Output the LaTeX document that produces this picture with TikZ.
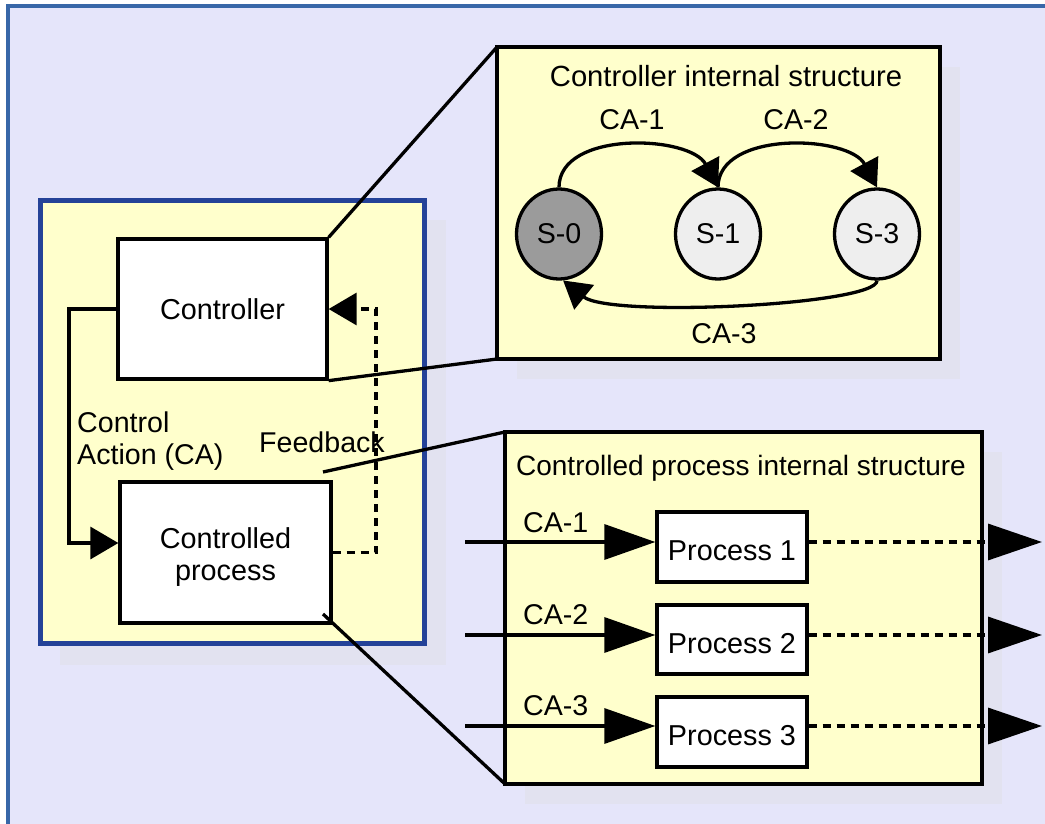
\documentclass[tikz,border=0pt]{standalone}
\usepackage{fontspec}
\setmainfont{Liberation Sans}
\usetikzlibrary{arrows.meta,shapes.geometric}
\definecolor{canvasbg}{RGB}{229,229,250}
\definecolor{frameblue}{RGB}{56,103,168}
\definecolor{boxblue}{RGB}{36,66,152}
\definecolor{paleyellow}{RGB}{255,255,204}
\definecolor{shadowtint}{RGB}{226,226,240}
\definecolor{stategrey}{RGB}{155,155,155}
\definecolor{statelight}{RGB}{238,238,238}

% lower a node's text without changing the box it is centred by
\newcommand{\lowertext}[2]{\raisebox{-#1}[\height][\depth]{#2}}

\begin{document}
\begin{tikzpicture}[x=1pt,y=-1pt,
  txt/.style={font=\fontsize{28.6}{32}\selectfont, inner sep=0pt},
  block/.style={draw=black, line width=3.3pt, fill=white, inner sep=0pt,
    font=\fontsize{28.8}{32}\selectfont, align=center},
  panel/.style={draw=black, line width=3.3pt, fill=paleyellow, inner sep=0pt, outer sep=0pt},
  state/.style={ellipse, draw=black, line width=3.3pt, minimum width=85pt,
    minimum height=90pt, inner sep=0pt, font=\fontsize{28.6}{32}\selectfont},
  link/.style={line width=3.3pt, black},
  dashlink/.style={line width=3.3pt, black, dash pattern=on 8pt off 6pt},
  smalltip/.style={-{Triangle[length=28pt,width=32pt]}},
  statetip/.style={-{Triangle[length=27pt,width=31pt]}},
  intip/.style={-{Triangle[length=51pt,width=35pt]}},
  outtip/.style={-{Triangle[length=54pt,width=36pt]}}
]
\useasboundingbox (0,0) rectangle (1045,824);
\clip (0,0) rectangle (1045,824);
\fill[white] (0,0) rectangle (1045,824);
\draw[line width=4pt, draw=frameblue, fill=canvasbg] (8,6) rectangle (1070,827);

% soft drop shadows behind the three panels
\fill[shadowtint] (60,220) rectangle (446,665);
\fill[shadowtint] (517,67) rectangle (960,379);
\fill[shadowtint] (525,452) rectangle (1002,804);

% control loop panel
\node[panel, draw=boxblue, line width=5pt, minimum width=383.5pt, minimum height=442.5pt]
  (loop) at (232.25,421.75) {};
\node[block, minimum width=209pt, minimum height=140pt] (ctrl) at (222.5,309) {Controller};
\node[block, minimum width=211pt, minimum height=141pt] (cp) at (225.5,552.5)
  {\lowertext{6pt}{\begin{tabular}{@{}c@{}}Controlled\\process\end{tabular}}};

\node[txt, anchor=north west, align=left] (calabel) at (77,412) {Control\\Action (CA)};
\node[txt, anchor=base west] (fblabel) at (259,452) {Feedback};

% control action and feedback paths
\coordinate (caTop) at (69,309);
\coordinate (caBot) at (69,543);
\draw[link, smalltip] (ctrl.west) -- (caTop) -- (caBot) -- (caBot -| cp.west);
\coordinate (fbTop) at (376,309);
\draw[dashlink, smalltip] (cp.east) -| (fbTop) -- (ctrl.east);

% controller internal structure
\node[panel, minimum width=443pt, minimum height=312pt] (ctrlpanel) at (718.5,203) {};
\node[txt, anchor=base, font=\fontsize{29.2}{32}\selectfont] (ctitle) at (726,87) {Controller internal structure};
\node[state, fill=stategrey] (s0) at (559,234) {S-0};
\node[state, fill=statelight] (s1) at (718,234) {S-1};
\node[state, fill=statelight] (s3) at (877,234) {S-3};
\draw[link, statetip] (s0.north) .. controls (559,130) and (690,135) .. (s1.north);
\draw[link, statetip] (s1.north) .. controls (718,130) and (849,135) .. (s3.north);
\draw[link, statetip] (s3.south) .. controls (877,305) and (610,318) .. (s0.-85);
\node[txt, anchor=base] (tca1) at (632,130) {CA-1};
\node[txt, anchor=base] (tca2) at (796,130) {CA-2};
\node[txt, anchor=base] (tca3) at (724,343) {CA-3};

% controlled process internal structure
\node[panel, minimum width=477pt, minimum height=352pt] (procpanel) at (743.5,608) {};
\node[txt, anchor=base, font=\fontsize{28}{32}\selectfont] (ptitle) at (741,475) {Controlled process internal structure};
\node[block, minimum width=150pt, minimum height=70pt] (p1) at (732,547) {\lowertext{4pt}{Process 1}};
\node[block, minimum width=150pt, minimum height=69pt] (p2) at (732,639.5) {\lowertext{4pt}{Process 2}};
\node[block, minimum width=150pt, minimum height=70pt] (p3) at (732,732) {\lowertext{4pt}{Process 3}};

\coordinate (in1) at (465,542);
\coordinate (in2) at (465,635);
\coordinate (in3) at (465,726);
\coordinate (out1) at (1042,542);
\coordinate (out2) at (1042,635);
\coordinate (out3) at (1042,726);
\draw[link, intip] (in1) -- (in1 -| p1.west);
\draw[link, intip] (in2) -- (in2 -| p2.west);
\draw[link, intip] (in3) -- (in3 -| p3.west);
\draw[dashlink, outtip] (out1 -| p1.east) -- (out1);
\draw[dashlink, outtip] (out2 -| p2.east) -- (out2);
\draw[dashlink, outtip] (out3 -| p3.east) -- (out3);
\node[txt, anchor=base west] (pca1) at (523,532) {CA-1};
\node[txt, anchor=base west] (pca2) at (523,624) {CA-2};
\node[txt, anchor=base west] (pca3) at (523,715) {CA-3};

% zoom-out lines from the loop blocks to their detail panels
\coordinate (cpTop) at (323,472);
\coordinate (cpBot) at (323,614);
\draw[link] (ctrl.north east) -- (ctrlpanel.north west);
\draw[link] (ctrl.south east) -- (ctrlpanel.south west);
\draw[link] (cpTop) -- (procpanel.north west);
\draw[link] (cpBot) -- (procpanel.south west);
\end{tikzpicture}
\end{document}
